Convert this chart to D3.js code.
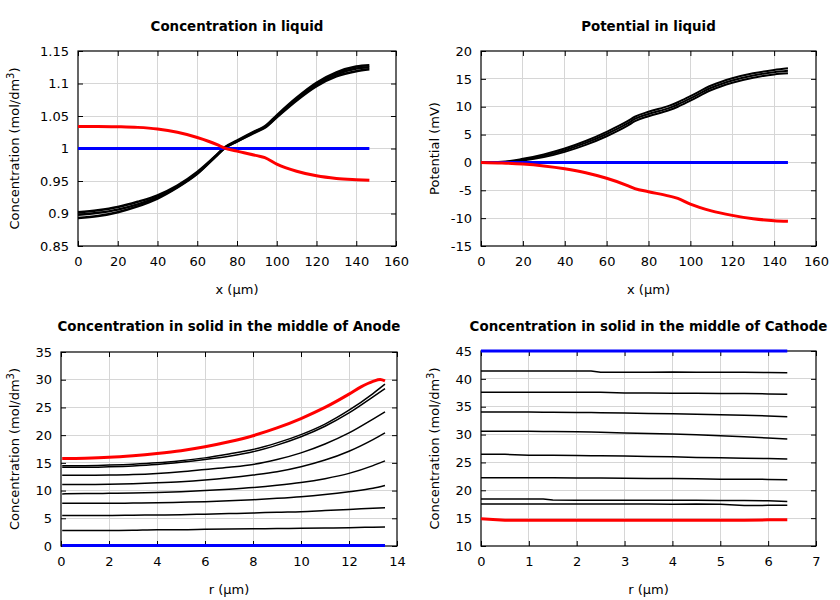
<!DOCTYPE html>
<html><head><meta charset="utf-8">
<script src="https://cdn.jsdelivr.net/npm/d3@7"></script>
<style>
body{margin:0;background:#fff;}
text{font-family:"DejaVu Sans",sans-serif;fill:#000;}
</style></head>
<body><svg id="c" width="840" height="600"></svg>
<script>
// ---------- Panel 1: Concentration in liquid ----------
const xLiquid = [0,10,20,30,40,50,60,70,73.5,80,90,94,100,110,120,130,140,146.6];
const concLiqBlackLow  = [0.893,0.896,0.902,0.911,0.923,0.940,0.961,0.990,1.000,1.011,1.026,1.032,1.048,1.074,1.096,1.111,1.119,1.122];
const concLiqBlackMid  = [0.898,0.901,0.906,0.914,0.925,0.941,0.962,0.990,1.000,1.011,1.027,1.033,1.049,1.076,1.099,1.114,1.123,1.125];
const concLiqBlackHigh = [0.902,0.905,0.910,0.918,0.928,0.943,0.964,0.991,1.001,1.012,1.028,1.034,1.051,1.078,1.101,1.117,1.126,1.128];
const concLiqRed  = [1.034,1.034,1.0335,1.0325,1.030,1.025,1.017,1.006,1.001,0.996,0.989,0.986,0.976,0.965,0.958,0.954,0.952,0.951];
const concLiqBlue = [1,1,1,1,1,1,1,1,1,1,1,1,1,1,1,1,1,1];
const concLiqYTicks = [0.85,0.9,0.95,1,1.05,1.1,1.15];
const liqXTicks = [0,20,40,60,80,100,120,140,160];

// ---------- Panel 2: Potential in liquid ----------
const potBlackLow  = [0,0.0,0.35,0.95,1.9,3.15,4.7,6.6,7.4,8.3,9.4,10.0,11.1,13.0,14.3,15.2,15.8,16.0];
const potBlackMid  = [0,0.05,0.5,1.2,2.2,3.5,5.1,7.0,7.8,8.7,9.8,10.4,11.5,13.4,14.7,15.6,16.2,16.45];
const potBlackHigh = [0,0.1,0.65,1.45,2.5,3.85,5.5,7.4,8.2,9.1,10.2,10.8,11.9,13.8,15.1,16.0,16.6,16.9];
const potRed  = [0,-0.1,-0.3,-0.65,-1.15,-1.85,-2.85,-4.15,-4.7,-5.25,-6.05,-6.45,-7.5,-8.7,-9.5,-10.1,-10.45,-10.55];
const potBlue = [0,0,0,0,0,0,0,0,0,0,0,0,0,0,0,0,0,0];
const potYTicks = [-15,-10,-5,0,5,10,15,20];

// ---------- Panel 3: Anode solid ----------
const rAnode = [0.05,1,2,3,4,5,6,7,8,9,10,11,12,13,13.5];
const anodeBlack = [
  [2.8,2.8,2.8,2.85,2.95,2.95,3.0,3.05,3.1,3.15,3.2,3.25,3.3,3.4,3.45],
  [5.5,5.5,5.5,5.55,5.6,5.65,5.75,5.85,5.95,6.1,6.2,6.4,6.6,6.8,6.9],
  [7.7,7.7,7.7,7.75,7.8,7.9,8.0,8.15,8.35,8.6,8.9,9.3,9.8,10.4,10.9],
  [9.4,9.45,9.5,9.55,9.65,9.8,10.0,10.25,10.55,10.95,11.45,12.15,13.1,14.5,15.35],
  [11.1,11.1,11.15,11.25,11.4,11.6,11.9,12.3,12.8,13.4,14.3,15.5,17.1,19.2,20.4],
  [12.75,12.75,12.8,12.9,13.1,13.4,13.8,14.2,14.7,15.6,16.8,18.4,20.4,22.9,24.2],
  [14.2,14.2,14.3,14.45,14.7,15.1,15.6,16.2,17.0,18.2,19.7,21.6,24.0,26.9,28.4],
  [14.5,14.5,14.6,14.75,15.0,15.4,15.9,16.6,17.4,18.6,20.1,22.0,24.5,27.5,29.2]
];
const rAnodeRed = [0.05,1,2,3,4,5,6,7,8,9,10,11,12,12.5,13,13.3,13.5];
const anodeRed  = [15.8,15.85,16.0,16.3,16.7,17.2,17.9,18.8,19.9,21.3,23.0,25.0,27.4,28.7,29.7,30.05,29.8];
const rAnodeBlue = [0.05,13.5];
const anodeBlue  = [0.1,0.1];
const anodeXTicks = [0,2,4,6,8,10,12,14];
const anodeYTicks = [0,5,10,15,20,25,30,35];

// ---------- Panel 4: Cathode solid ----------
const rCathode = [0,0.5,1,1.3,1.5,2,2.3,2.5,3,3.5,4,4.5,5,5.5,6,6.4];
const cathodeBlack = [
  [41.4,41.4,41.4,41.4,41.4,41.4,41.4,41.2,41.2,41.2,41.25,41.2,41.2,41.2,41.15,41.1],
  [37.6,37.6,37.6,37.6,37.6,37.6,37.6,37.6,37.45,37.45,37.4,37.4,37.35,37.35,37.3,37.25],
  [34.05,34.05,34.05,34.0,34.0,33.95,33.95,33.9,33.85,33.8,33.75,33.65,33.55,33.45,33.35,33.2],
  [30.6,30.6,30.6,30.55,30.55,30.5,30.45,30.4,30.3,30.2,30.1,29.95,29.8,29.6,29.4,29.2],
  [26.45,26.45,26.3,26.3,26.3,26.25,26.2,26.2,26.15,26.05,26.0,25.9,25.85,25.75,25.7,25.6],
  [22.25,22.25,22.25,22.25,22.25,22.2,22.2,22.2,22.15,22.1,22.1,22.05,22.0,22.0,21.95,21.9],
  [18.45,18.45,18.45,18.45,18.25,18.2,18.2,18.2,18.2,18.2,18.2,18.2,18.15,18.15,18.1,18.0],
  [17.55,17.55,17.55,17.55,17.55,17.55,17.55,17.55,17.55,17.55,17.5,17.55,17.5,17.25,17.3,17.3]
];
const cathodeRed  = [14.9,14.6,14.6,14.6,14.6,14.6,14.6,14.6,14.6,14.6,14.6,14.6,14.6,14.6,14.7,14.7];
const cathodeBlue = [45,45,45,45,45,45,45,45,45,45,45,45,45,45,45,45];
const cathodeXTicks = [0,1,2,3,4,5,6,7];
const cathodeYTicks = [10,15,20,25,30,35,40,45];

const svg = d3.select("#c");
const BLACK="#000000", RED="#ff0000", BLUE="#0000ff";
const FS = "13px";

function zip(xs, ys){ return xs.map((x,i)=>[x, ys[i]]); }

function panel(cfg){
  const {L,R,T,B} = cfg.box;
  const x = d3.scaleLinear().domain(cfg.xDomain).range([L,R]);
  const y = d3.scaleLinear().domain(cfg.yDomain).range([B,T]);
  const g = svg.append("g");
  // grid
  g.selectAll(".gx").data(cfg.xTicks.slice(1,-1)).join("line")
    .attr("x1",d=>x(d)).attr("x2",d=>x(d)).attr("y1",T).attr("y2",B)
    .attr("stroke","#d6d6d6").attr("stroke-width",1).attr("shape-rendering","crispEdges");
  g.selectAll(".gy").data(cfg.yTicks.slice(1,-1)).join("line")
    .attr("y1",d=>y(d)).attr("y2",d=>y(d)).attr("x1",L).attr("x2",R)
    .attr("stroke","#d6d6d6").attr("stroke-width",1).attr("shape-rendering","crispEdges");
  // axes with inward ticks, mirrored
  const fmt = cfg.fmt || (d=>String(d));
  const ax = g.append("g").attr("transform",`translate(0,${B})`)
    .call(d3.axisBottom(x).tickValues(cfg.xTicks).tickSize(-5).tickPadding(11).tickFormat(fmt));
  const ay = g.append("g").attr("transform",`translate(${L},0)`)
    .call(d3.axisLeft(y).tickValues(cfg.yTicks).tickSize(-5).tickPadding(9).tickFormat(fmt));
  const at = g.append("g").attr("transform",`translate(0,${T})`)
    .call(d3.axisTop(x).tickValues(cfg.xTicks).tickSize(-5).tickFormat(""));
  const ar = g.append("g").attr("transform",`translate(${R},0)`)
    .call(d3.axisRight(y).tickValues(cfg.yTicks).tickSize(-5).tickFormat(""));
  [ax,ay,at,ar].forEach(a=>{
    a.select(".domain").remove();
    a.selectAll("line").attr("stroke","#000").attr("stroke-width",1);
    a.selectAll("text").style("font-family","'DejaVu Sans',sans-serif").style("font-size",FS).attr("fill","#000");
  });
  g.append("rect").attr("x",L).attr("y",T).attr("width",R-L).attr("height",B-T)
    .attr("fill","none").attr("stroke","#000").attr("stroke-width",1.2);
  // series
  const line = d3.line().x(d=>x(d[0])).y(d=>y(d[1])).curve(cfg.curve || d3.curveMonotoneX);
  cfg.series.forEach(s=>{
    g.append("path").datum(zip(s.x,s.y)).attr("d",line)
      .attr("fill","none").attr("stroke",s.color).attr("stroke-width",s.w)
      .attr("stroke-linejoin","round");
  });
  // title
  svg.append("text").attr("x",(L+R)/2).attr("y",cfg.titleY).attr("text-anchor","middle")
    .style("font-size","13.4px").style("font-weight","bold").text(cfg.title);
  // x label
  svg.append("text").attr("x",(L+R)/2).attr("y",cfg.xLabelY).attr("text-anchor","middle")
    .style("font-size",FS).text(cfg.xLabel);
  // y label
  const yl = svg.append("text").attr("transform",`translate(${cfg.yLabelX},${(T+B)/2}) rotate(-90)`)
    .attr("text-anchor","middle").style("font-size",FS);
  if(cfg.yLabelSup){
    yl.append("tspan").text(cfg.yLabel);
    yl.append("tspan").attr("dy",-5).style("font-size","10px").text(cfg.yLabelSup);
    yl.append("tspan").attr("dy",5).text(")");
  } else yl.text(cfg.yLabel);
}

panel({
  box:{L:78,R:396,T:51,B:246}, xDomain:[0,160], yDomain:[0.85,1.15],
  xTicks:liqXTicks, yTicks:concLiqYTicks,
  fmt:d=>String(+d.toFixed(2)),
  title:"Concentration in liquid", titleY:31,
  xLabel:"x (µm)", xLabelY:294, yLabel:"Concentration (mol/dm", yLabelSup:"3", yLabelX:19,
  series:[
    {x:xLiquid,y:concLiqBlackLow,color:BLACK,w:2.5},
    {x:xLiquid,y:concLiqBlackMid,color:BLACK,w:2.5},
    {x:xLiquid,y:concLiqBlackHigh,color:BLACK,w:2.5},
    {x:xLiquid,y:concLiqBlue,color:BLUE,w:3},
    {x:xLiquid,y:concLiqRed,color:RED,w:3}
  ]
});
panel({
  box:{L:481,R:816,T:51,B:246}, xDomain:[0,160], yDomain:[-15,20],
  xTicks:liqXTicks, yTicks:potYTicks,
  title:"Potential in liquid", titleY:31,
  xLabel:"x (µm)", xLabelY:294, yLabel:"Potential (mV)", yLabelX:439,
  series:[
    {x:xLiquid,y:potBlackLow,color:BLACK,w:2},
    {x:xLiquid,y:potBlackMid,color:BLACK,w:2},
    {x:xLiquid,y:potBlackHigh,color:BLACK,w:2},
    {x:xLiquid,y:potBlue,color:BLUE,w:3},
    {x:xLiquid,y:potRed,color:RED,w:3}
  ]
});
panel({
  box:{L:61,R:397,T:352,B:546}, xDomain:[0,14], yDomain:[0,35],
  xTicks:anodeXTicks, yTicks:anodeYTicks,
  title:"Concentration in solid in the middle of Anode", titleY:331,
  xLabel:"r (µm)", xLabelY:594, yLabel:"Concentration (mol/dm", yLabelSup:"3", yLabelX:19,
  series: anodeBlack.map(v=>({x:rAnode,y:v,color:BLACK,w:1.5})).concat([
    {x:rAnodeBlue,y:anodeBlue,color:BLUE,w:3},
    {x:rAnodeRed,y:anodeRed,color:RED,w:3}
  ])
});
panel({
  box:{L:481,R:816,T:351,B:546}, xDomain:[0,7], yDomain:[10,45],
  xTicks:cathodeXTicks, yTicks:cathodeYTicks, curve:d3.curveLinear,
  title:"Concentration in solid in the middle of Cathode", titleY:331,
  xLabel:"r (µm)", xLabelY:594, yLabel:"Concentration (mol/dm", yLabelSup:"3", yLabelX:439,
  series: cathodeBlack.map(v=>({x:rCathode,y:v,color:BLACK,w:1.5})).concat([
    {x:rCathode,y:cathodeBlue,color:BLUE,w:3},
    {x:rCathode,y:cathodeRed,color:RED,w:3}
  ])
});
</script></body></html>
